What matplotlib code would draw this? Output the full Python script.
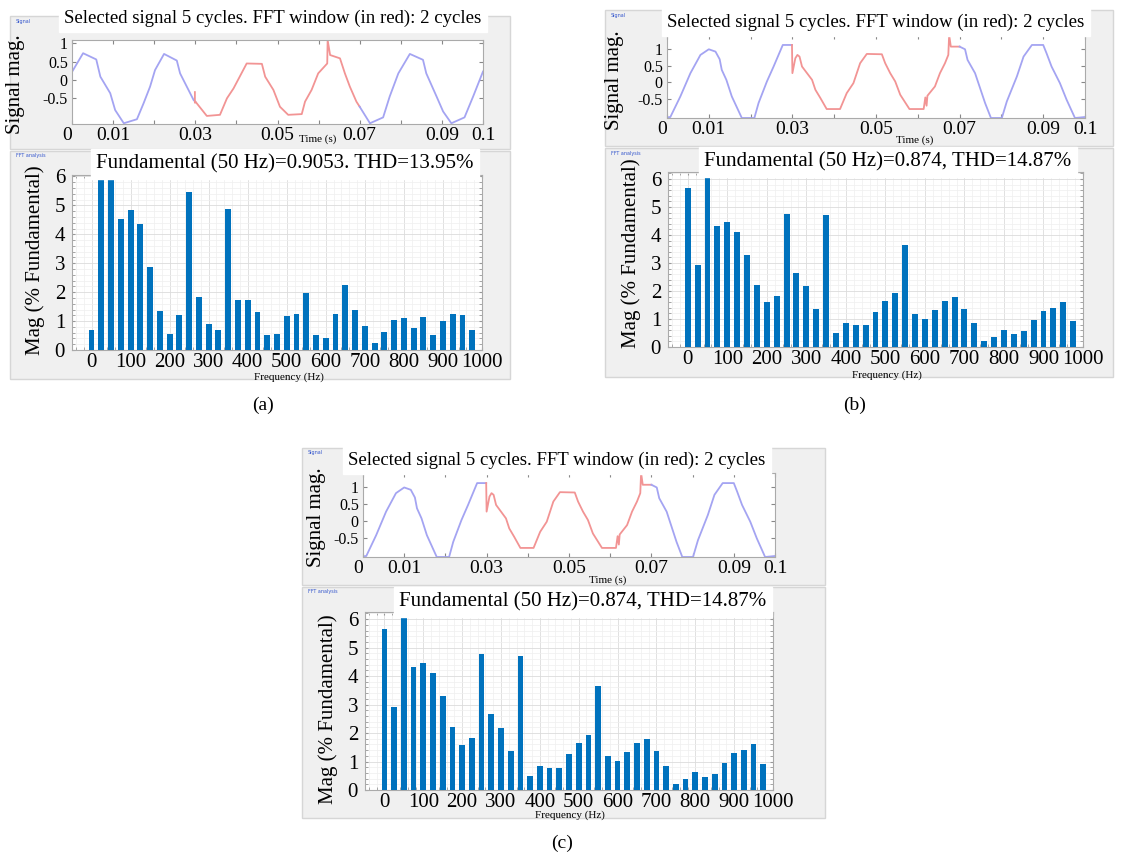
import numpy as np
import matplotlib.pyplot as plt
from matplotlib.patches import Rectangle
from matplotlib.ticker import AutoMinorLocator

plt.rcParams['font.family'] = ['Liberation Serif', 'DejaVu Serif']

#-------------------------------------------------------------------------------
# FFT bars, 25 Hz resolution (2-cycle window)
freq = np.arange(0, 1000, 25)

mag_a = [0.69, 6.4, 6.4, 4.54, 4.83, 4.34, 2.87, 1.36, 0.55, 1.21,
         5.46, 1.84, 0.90, 0.69, 4.89, 1.72, 1.72, 1.32, 0.52, 0.57,
         1.17, 1.23, 1.98, 0.51, 0.43, 1.23, 2.26, 1.40, 0.84, 0.23,
         0.63, 1.03, 1.11, 0.75, 1.13, 0.53, 1.01, 1.26, 1.22, 0.69]

mag_b = [5.67, 2.92, 6.4, 4.32, 4.45, 4.11, 3.30, 2.21, 1.59, 1.82,
         4.76, 2.66, 2.18, 1.36, 4.70, 0.49, 0.85, 0.78, 0.79, 1.25,
         1.66, 1.92, 3.64, 1.18, 1.01, 1.33, 1.66, 1.80, 1.36, 0.85,
         0.21, 0.37, 0.62, 0.45, 0.56, 0.96, 1.29, 1.40, 1.61, 0.93]

title_fft_a = 'Fundamental (50 Hz)=0.9053. THD=13.95%'
title_fft_b = 'Fundamental (50 Hz)=0.874, THD=14.87%'
title_sig = 'Selected signal 5 cycles. FFT window (in red): 2 cycles'

# time signal (a)
a_blue1_t = [0.0, 0.0027, 0.0059, 0.0069, 0.0093, 0.0105, 0.0126, 0.0158, 0.0174,
             0.0190, 0.0202, 0.0224, 0.0255, 0.0263, 0.0296, 0.0300]
a_blue1_v = [0.22, 0.73, 0.56, 0.09, -0.36, -0.82, -1.18, -1.07, -0.64,
             -0.18, 0.27, 0.71, 0.53, 0.18, -0.55, -0.59]
a_red_t = [0.0299, 0.0299, 0.0301, 0.0328, 0.0360, 0.0377, 0.0393, 0.0425, 0.0462,
           0.0470, 0.0490, 0.0506, 0.0526, 0.0559, 0.0567, 0.0583, 0.0599, 0.0621,
           0.0622, 0.0628, 0.0652, 0.0664, 0.0676, 0.0692, 0.0700]
a_red_v = [-0.33, -0.62, -0.60, -0.98, -0.95, -0.50, -0.23, 0.45, 0.44,
           0.09, -0.27, -0.73, -0.95, -0.93, -0.59, -0.27, 0.18, 0.45,
           1.09, 0.68, 0.59, 0.18, -0.18, -0.59, -0.73]
a_blue2_t = [0.0700, 0.0725, 0.0757, 0.0773, 0.0794, 0.0822, 0.0854, 0.0862, 0.0887,
             0.0903, 0.0923, 0.0955, 0.0976, 0.1000]
a_blue2_v = [-0.73, -1.18, -1.02, -0.45, 0.18, 0.71, 0.55, 0.18, -0.45,
             -0.86, -1.18, -1.02, -0.45, 0.23]

# time signal (b) and (c)
b_blue1_t = [0.0, 0.0008, 0.0032, 0.0056, 0.0080, 0.0100, 0.0116, 0.0126, 0.0131,
             0.0142, 0.0155, 0.0179, 0.0209, 0.0219, 0.0239, 0.0255, 0.0277, 0.0299]
b_blue1_v = [-1.05, -1.04, -0.42, 0.28, 0.83, 1.00, 0.93, 0.70, 0.38,
             0.08, -0.42, -1.07, -1.07, -0.62, 0.03, 0.48, 1.13, 1.13]
b_red_t = [0.0299, 0.0300, 0.0307, 0.0312, 0.0317, 0.0323, 0.0335, 0.0347, 0.0355,
           0.0367, 0.0382, 0.0414, 0.0430, 0.0446, 0.0462, 0.0478, 0.0514, 0.0522,
           0.0534, 0.0546, 0.0558, 0.0580, 0.0614, 0.0618, 0.0621, 0.0623, 0.0641,
           0.0653, 0.0665, 0.0673, 0.0675, 0.0679, 0.0700]
b_red_v = [1.13, 0.28, 0.73, 0.83, 0.78, 0.48, 0.28, 0.08, -0.22,
           -0.47, -0.80, -0.80, -0.32, -0.02, 0.58, 0.86, 0.85, 0.58,
           0.28, 0.03, -0.37, -0.80, -0.80, -0.45, -0.70, -0.40, -0.12,
           0.28, 0.58, 0.83, 1.43, 1.08, 1.08]
b_blue2_t = [0.0700, 0.0713, 0.0719, 0.0737, 0.0749, 0.0761, 0.0775, 0.0801, 0.0813,
             0.0837, 0.0853, 0.0873, 0.0900, 0.0908, 0.0920, 0.0940, 0.0956, 0.0976,
             0.1000]
b_blue2_v = [1.08, 1.00, 0.68, 0.28, -0.17, -0.62, -1.07, -1.07, -0.57,
             0.18, 0.78, 1.13, 1.13, 0.88, 0.48, -0.02, -0.52, -1.07,
             -1.04]

sig_ticks = [0, 0.01, 0.02, 0.03, 0.04, 0.05, 0.06, 0.07, 0.08, 0.09, 0.1]
sig_ticklabels = ['0', '0.01', '', '0.03', '', '0.05', '', '0.07', '', '0.09', '0.1']
sig_yticks = [-0.5, 0, 0.5, 1]
sig_yticklabels = ['-0.5', '0', '0.5', '1']
#-------------------------------------------------------------------------------

W, H = 1123, 856
fig = plt.figure(figsize=(W/100, H/100), dpi=100)
fig.patch.set_facecolor('white')

def box(x0, y0, x1, y1):
    return [x0/W, 1-y1/H, (x1-x0)/W, (y1-y0)/H]

def ftext(x, y, s, **kw):
    fig.text(x/W, 1-y/H, s, ha='center', va='center', **kw)

def panel(x0, y0, x1, y1, label):
    fig.add_artist(Rectangle((x0/W, 1-y1/H), (x1-x0)/W, (y1-y0)/H,
                             transform=fig.transFigure, facecolor='#f0f0f0',
                             edgecolor='#d6d6d6', lw=1, zorder=-5))
    fig.text((x0+6)/W, 1-(y0+5)/H, label, fontsize=3.5, color='#3355cc',
             family='DejaVu Sans', va='center')

BLUE = '#0072bd'

def signal_ax(pos, blue1, red, blue2, ylim):
    ax = fig.add_axes(pos)
    ax.plot(blue1[0], blue1[1], color='#a4a4f2', lw=1.3)
    ax.plot(red[0], red[1], color='#f29494', lw=1.3)
    ax.plot(blue2[0], blue2[1], color='#a4a4f2', lw=1.3)
    ax.set_xlim(0, 0.1)
    ax.set_ylim(*ylim)
    ax.set_xticks(sig_ticks)
    ax.set_xticklabels(sig_ticklabels, fontsize=14)
    ax.get_xticklabels()[0].set_ha('right')
    ax.set_yticks(sig_yticks)
    ax.set_yticklabels(sig_yticklabels, fontsize=11.5)
    ax.tick_params(direction='in', top=True, right=True, length=3, color='#888888',
                   pad=3)
    ax.tick_params(axis='x', pad=2)
    for s in ax.spines.values():
        s.set_color('#aaaaaa')
        s.set_linewidth(0.8)
    return ax

def fft_ax(pos, mags, ytop):
    ax = fig.add_axes(pos)
    ax.bar(freq, mags, width=15, color=BLUE, zorder=3)
    ax.set_xlim(-50, 1000)
    ax.set_ylim(0, ytop)
    ax.set_xticks(np.arange(0, 1001, 100))
    ax.set_yticks(np.arange(0, 7, 1))
    ax.tick_params(axis='x', labelsize=15, pad=2)
    ax.tick_params(axis='y', labelsize=15, pad=5)
    ax.xaxis.set_minor_locator(AutoMinorLocator(5))
    ax.yaxis.set_minor_locator(AutoMinorLocator(5))
    ax.grid(which='major', color='#dcdcdc', lw=0.6, zorder=0)
    ax.grid(which='minor', color='#efefef', lw=0.5, zorder=0)
    ax.tick_params(which='both', direction='in', top=True, right=True, length=2,
                   color='#999999')
    for s in ax.spines.values():
        s.set_color('#aaaaaa')
        s.set_linewidth(0.8)
    return ax

# ---------------- (a)
panel(10, 16, 510, 149, 'Signal')
panel(10, 151, 510, 379, 'FFT analysis')
signal_ax(box(72, 40, 483, 124), (a_blue1_t, a_blue1_v), (a_red_t, a_red_v),
          (a_blue2_t, a_blue2_v), (-1.2, 1.09))
fft_ax(box(72, 175, 482, 350), mag_a, 6.05)
ftext(273, 18, title_sig, fontsize=13.5, backgroundcolor='white')
ftext(285, 164, title_fft_a, fontsize=15, backgroundcolor='white')
ftext(16, 84, 'Signal mag.', fontsize=15, rotation=90)
ftext(35, 260, 'Mag (% Fundamental)', fontsize=15, rotation=90)
ftext(318, 139, 'Time (s)', fontsize=8)
ftext(289, 377, 'Frequency (Hz)', fontsize=8)
ftext(263, 405, '(a)', fontsize=14)

# ---------------- (b)
panel(605, 10, 1113, 146, 'Signal')
panel(605, 148, 1113, 377, 'FFT analysis')
signal_ax(box(667, 35, 1085, 118), (b_blue1_t, b_blue1_v), (b_red_t, b_red_v),
          (b_blue2_t, b_blue2_v), (-1.07, 1.43))
fft_ax(box(668, 172, 1083, 347), mag_b, 6.25)
ftext(876, 22, title_sig, fontsize=13.5, backgroundcolor='white')
ftext(888, 162, title_fft_b, fontsize=15, backgroundcolor='white')
ftext(614, 80, 'Signal mag.', fontsize=15, rotation=90)
ftext(631, 253, 'Mag (% Fundamental)', fontsize=15, rotation=90)
ftext(915, 140, 'Time (s)', fontsize=8)
ftext(887, 375, 'Frequency (Hz)', fontsize=8)
ftext(855, 405, '(b)', fontsize=14)

# ---------------- (c)
panel(302, 448, 825, 585, 'Signal')
panel(302, 587, 825, 818, 'FFT analysis')
signal_ax(box(363, 473, 775, 557), (b_blue1_t, b_blue1_v), (b_red_t, b_red_v),
          (b_blue2_t, b_blue2_v), (-1.07, 1.43))
fft_ax(box(365, 612, 773, 790), mag_b, 6.25)
ftext(557, 460, title_sig, fontsize=13.5, backgroundcolor='white')
ftext(583, 602, title_fft_b, fontsize=15, backgroundcolor='white')
ftext(316, 517, 'Signal mag.', fontsize=15, rotation=90)
ftext(328, 709, 'Mag (% Fundamental)', fontsize=15, rotation=90)
ftext(608, 580, 'Time (s)', fontsize=8)
ftext(570, 815, 'Frequency (Hz)', fontsize=8)
ftext(562, 843, '(c)', fontsize=14)

plt.savefig('out.png', dpi=100)
